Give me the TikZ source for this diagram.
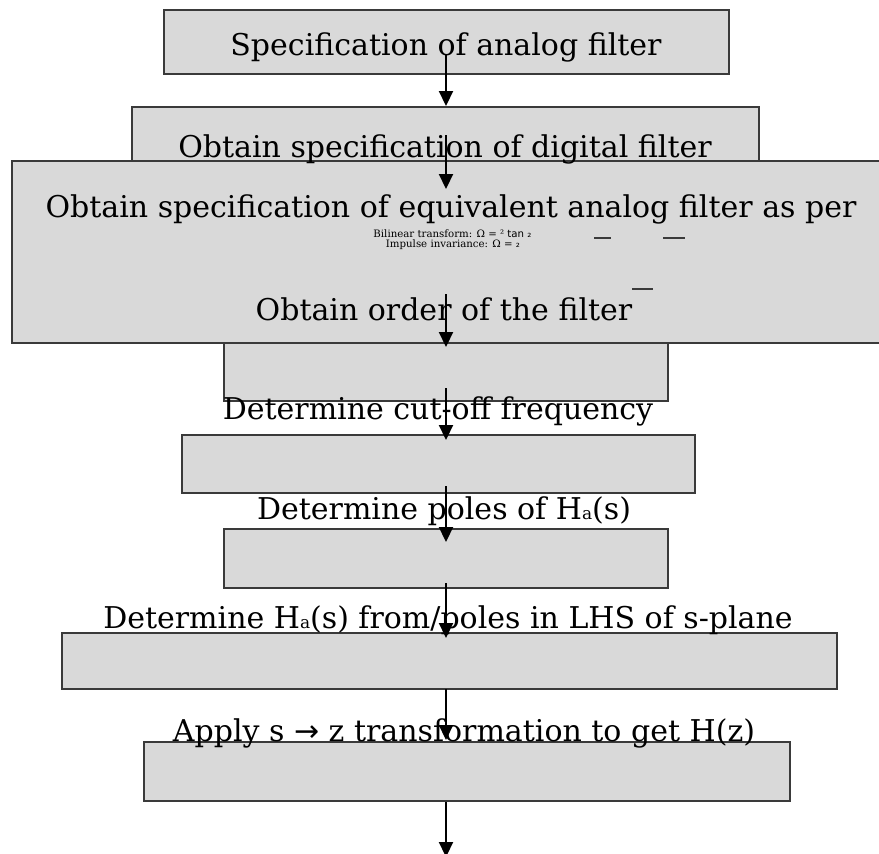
\documentclass[tikz,border=0pt]{standalone}
\usepackage{fontspec}
\setmainfont{DejaVu Serif}
\newfontfamily\symfont{DejaVu Sans}
\usetikzlibrary{arrows.meta}
\definecolor{boxfill}{HTML}{D9D9D9}
\definecolor{boxline}{HTML}{3A3A3A}
\tikzset{
  box/.style={rectangle, draw=boxline, fill=boxfill, line width=1.5pt, inner sep=0pt, outer sep=0pt},
  lbl/.style={anchor=base, inner sep=0pt, font=\fontsize{30}{36}\selectfont},
  smalllbl/.style={anchor=base, inner sep=0pt, font=\fontsize{10.2}{11}\selectfont},
  flow/.style={line width=2.2pt, -{Triangle[length=15pt,width=14pt]}},
  fracbar/.style={draw=boxline, line width=1.5pt}
}
\newcommand{\Hsub}{H{\fontsize{17}{17}\selectfont a}}
\begin{document}
\begin{tikzpicture}[x=1pt,y=-1pt]
\useasboundingbox (0,0) rectangle (879,854);
% boxes
\node[box, minimum width=565pt, minimum height=64pt] (b1) at (446.5,42) {};
\node[box, minimum width=627pt, minimum height=63pt] (b2) at (445.5,138.5) {};
\node[box, minimum width=878pt, minimum height=182pt] (b3) at (451,252) {};
\node[box, minimum width=444pt, minimum height=58pt] (b4) at (446,372) {};
\node[box, minimum width=513pt, minimum height=58pt] (b5) at (438.5,464) {};
\node[box, minimum width=444pt, minimum height=59pt] (b6) at (446,558.5) {};
\node[box, minimum width=775pt, minimum height=56pt] (b7) at (449.5,661) {};
\node[box, minimum width=646pt, minimum height=59pt] (b8) at (467,771.5) {};
% texts
\node[lbl] (t1) at (446,55) {Specification of analog filter};
\node[lbl] (t2) at (445,157) {Obtain specification of digital filter};
\node[lbl] (t3) at (451,217) {Obtain specification of equivalent analog filter as per};
\node[smalllbl] (t3a) at (452.5,237) {Bilinear transform: Ω = ² {\symfont tan ₂}};
\node[smalllbl] (t3b) at (453,247) {Impulse invariance: Ω = {\symfont ₂}};
\node[lbl] (t3c) at (444,320) {Obtain order of the filter};
\node[lbl] (t4) at (438,419) {Determine cut-off frequency};
\node[lbl] (t5) at (444,519) {Determine poles of \Hsub(s)};
\node[lbl] (t6) at (448,628) {Determine \Hsub(s) from/poles in LHS of s-plane};
\node[lbl] (t7) at (464,741) {Apply s {\symfont →} z transformation to get H(z)};
% stray fraction bars
\draw[fracbar] (594,238) -- (611,238);
\draw[fracbar] (663,238) -- (685,238);
\draw[fracbar] (632,289) -- (653,289);
% arrows
\coordinate (a1s) at (446,55);  \coordinate (a1e) at (446,106);
\coordinate (a2s) at (446,135); \coordinate (a2e) at (446,189);
\coordinate (a3s) at (446,294); \coordinate (a3e) at (446,347);
\coordinate (a4s) at (446,388); \coordinate (a4e) at (446,440);
\coordinate (a5s) at (446,486); \coordinate (a5e) at (446,542);
\coordinate (a6s) at (446,583); \coordinate (a6e) at (446,638);
\coordinate (a7s) at (446,689); \coordinate (a7e) at (446,740);
\coordinate (a8s) at (446,802); \coordinate (a8e) at (446,857);
\draw[flow] (a1s) -- (a1e);
\draw[flow] (a2s) -- (a2e);
\draw[flow] (a3s) -- (a3e);
\draw[flow] (a4s) -- (a4e);
\draw[flow] (a5s) -- (a5e);
\draw[flow] (a6s) -- (a6e);
\draw[flow] (a7s) -- (a7e);
\draw[flow] (a8s) -- (a8e);
\end{tikzpicture}
\end{document}
